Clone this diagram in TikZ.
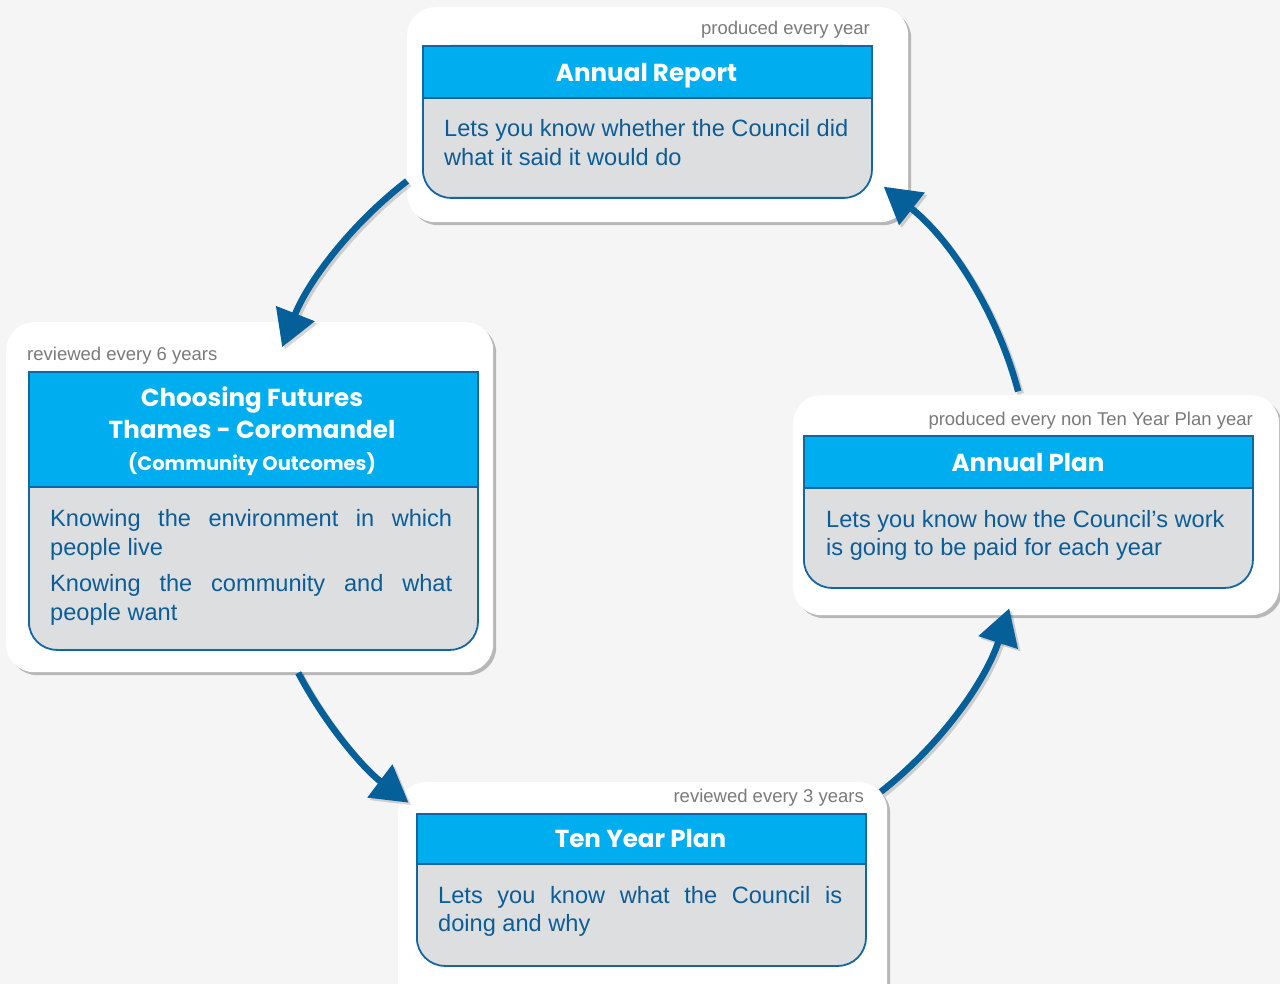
\documentclass[tikz,border=0pt]{standalone}
\usepackage{fontspec}
\setmainfont{Liberation Sans}
\newfontfamily\headfont{Poppins}
\usetikzlibrary{arrows.meta,shadows,calc}
\definecolor{bg}{HTML}{F5F5F5}
\definecolor{headblue}{HTML}{00AEEF}
\definecolor{bodygray}{HTML}{DDDEE0}
\definecolor{border}{HTML}{1466A1}
\definecolor{arrowblue}{HTML}{05609A}
\definecolor{textblue}{HTML}{0B5D97}
\definecolor{notegray}{HTML}{7A7A7A}
\tikzset{
 card/.style={rectangle, rounded corners=28pt, fill=white, draw=none, inner sep=0pt, anchor=north west,
   drop shadow={shadow xshift=3pt, shadow yshift=-3pt, opacity=0.25, fill=black}},
 bodyshape/.style={rectangle, rounded corners=28pt, fill=bodygray, draw=border, line width=1.8pt, inner sep=0pt, anchor=north west, minimum width=449pt},
 headshape/.style={rectangle, fill=headblue, draw=border, line width=1.8pt, inner sep=0pt, anchor=north west, minimum width=449pt},
 headtext/.style={anchor=base, inner sep=0pt, text=white, font=\headfont\bfseries\fontsize{24.6}{30}\selectfont},
 subheadtext/.style={anchor=base, inner sep=0pt, text=white, font=\headfont\bfseries\fontsize{19.5}{24}\selectfont},
 bodytext/.style={anchor=base west, inner sep=0pt, text=textblue, font=\fontsize{23.6}{28.3}\selectfont, align=left},
 note/.style={inner sep=0pt, text=notegray, font=\fontsize{18.5}{22}\selectfont},
 flow/.style={draw=arrowblue, line width=6.5pt, -{Triangle[length=36pt,width=40pt]}},
 flowshadow/.style={draw=black, opacity=0.16, line width=6.5pt, -{Triangle[length=36pt,width=40pt]}, transform canvas={xshift=2.5pt,yshift=-2.5pt}},
}
\begin{document}
\begin{tikzpicture}[x=1pt,y=-1pt]
\useasboundingbox (0,0) rectangle (1280,984);
\clip (0,0) rectangle (1280,984);
\fill[bg] (0,0) rectangle (1280,984);
\coordinate (c) at (645,490);

% cards
\node[card, minimum width=501pt, minimum height=215pt] (repcard) at (407,7) {};
\node[card, minimum width=487pt, minimum height=350pt] (cfcard) at (6,322) {};
\node[card, minimum width=486pt, minimum height=220pt] (apcard) at (793,395) {};
\node[card, minimum width=489pt, minimum height=230pt] (typcard) at (398,782) {};

% arrows
\coordinate (a1s) at ($(c)+(-127.6:390)$);
\coordinate (a2s) at ($(c)+(152.2:392)$);
\coordinate (a3s) at ($(c)+(52.0:383)$);
\coordinate (a4s) at ($(c)+(-14.8:386)$);
\draw[flowshadow] (a1s) arc[start angle=-127.6, end angle=-158.5, radius=390];
\draw[flowshadow] (a2s) arc[start angle=152.2, end angle=127.1, radius=392];
\draw[flowshadow] (a3s) arc[start angle=52.0, end angle=18.0, radius=383];
\draw[flowshadow] (a4s) arc[start angle=-14.8, end angle=-51.8, radius=386];
\draw[flow] (a1s) arc[start angle=-127.6, end angle=-158.5, radius=390];
\draw[flow] (a2s) arc[start angle=152.2, end angle=127.1, radius=392];
\draw[flow] (a3s) arc[start angle=52.0, end angle=18.0, radius=383];
\draw[flow] (a4s) arc[start angle=-14.8, end angle=-51.8, radius=386];

% Annual Report
\node[note, anchor=base east] (repnote) at (870,35) {produced every year};
\node[bodyshape, minimum height=152pt] (repbody) at (422,45) {};
\node[headshape, minimum height=52pt] (rephead) at (422,45) {};
\node[headtext] (reptitle) at (646.5,81.7) {Annual Report};
\node[bodytext] (reptext) at (444,165.3) {Lets you know whether the Council did\\what it said it would do};

% Choosing Futures
\node[note, anchor=base west] (cfnote) at (27,360) {reviewed every 6 years};
\node[bodyshape, minimum height=278pt] (cfbody) at (28,371) {};
\node[headshape, minimum height=115pt] (cfhead) at (28,371) {};
\node[headtext] (cftitleA) at (252,406) {Choosing Futures};
\node[headtext] (cftitleB) at (252,438) {Thames - Coromandel};
\node[subheadtext] (cftitleC) at (252,470) {(Community Outcomes)};
\node[bodytext] (cftext) at (50,620) {\makebox[402pt][s]{Knowing the environment in which}\\people live\\[8.4pt]\makebox[402pt][s]{Knowing the community and what}\\people want};

% Annual Plan
\node[note, anchor=base east] (apnote) at (1253,425) {produced every non Ten Year Plan year};
\node[bodyshape, minimum height=152pt] (apbody) at (803,435) {};
\node[headshape, minimum height=52pt] (aphead) at (803,435) {};
\node[headtext] (aptitle) at (1028,471) {Annual Plan};
\node[bodytext] (aptext) at (826,555.3) {Lets you know how the Council’s work\\is going to be paid for each year};

% Ten Year Plan
\node[note, anchor=base east] (typnote) at (864,802) {reviewed every 3 years};
\node[bodyshape, minimum height=152pt] (typbody) at (416,813) {};
\node[headshape, minimum height=50pt] (typhead) at (416,813) {};
\node[headtext] (typtitle) at (640.5,847) {Ten Year Plan};
\node[bodytext] (typtext) at (438,931.3) {\makebox[404pt][s]{Lets you know what the Council is}\\doing and why};
\end{tikzpicture}
\end{document}
